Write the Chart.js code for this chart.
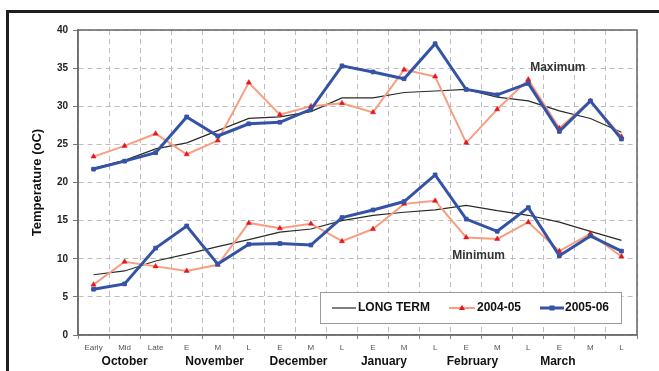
<!DOCTYPE html>
<html>
<head>
<meta charset="utf-8">
<script src="https://cdn.jsdelivr.net/npm/chart.js@4"></script>
<style>
  html, body { margin: 0; padding: 0; background: #fff; }
  #wrap { width: 659px; height: 371px; }
</style>
</head>
<body>
<div id="wrap"><canvas id="c" width="659" height="371"></canvas></div>
<script>
// Ten-day periods, October to March
const categories = ['Early','Mid','Late','E','M','L','E','M','L','E','M','L','E','M','L','E','M','L'];
const months = ['October','November','December','January','February','March'];
const yTicks = [0, 5, 10, 15, 20, 25, 30, 35, 40];

// Maximum temperatures (oC)
const longTermMax = [21.9, 22.9, 24.4, 25.2, 26.8, 28.4, 28.6, 29.3, 31.1, 31.1, 31.8, 32.0, 32.2, 31.2, 30.7, 29.4, 28.4, 26.6];
const max0405     = [23.4, 24.8, 26.4, 23.7, 25.5, 33.1, 28.9, 30.0, 30.4, 29.2, 34.8, 33.9, 25.2, 29.6, 33.5, 27.1, 30.7, 26.0];
const max0506     = [21.75, 22.8, 23.9, 28.6, 26.1, 27.7, 27.9, 29.6, 35.3, 34.5, 33.6, 38.2, 32.2, 31.5, 33.0, 26.7, 30.7, 25.7];

// Minimum temperatures (oC)
const longTermMin = [7.9, 8.4, 9.7, 10.6, 11.6, 12.5, 13.5, 13.9, 15.0, 15.7, 16.1, 16.4, 17.0, 16.3, 15.7, 14.8, 13.6, 12.4];
const min0405     = [6.6, 9.6, 9.0, 8.4, 9.2, 14.7, 14.0, 14.6, 12.3, 13.9, 17.2, 17.6, 12.8, 12.6, 14.8, 11.0, 13.3, 10.3];
const min0506     = [6.0, 6.7, 11.4, 14.3, 9.3, 11.9, 12.0, 11.8, 15.4, 16.4, 17.5, 21.0, 15.2, 13.6, 16.7, 10.4, 13.0, 11.0];

const seriesNames = ['LONG TERM', '2004-05', '2005-06'];

const FONT = "'Liberation Sans', Arial, sans-serif";
const BLUE = '#3553a6';
const SALMON = 'rgb(246,158,128)';
const RED = '#e8141c';
const BLACK = '#2a2a2a';

const styleBlue = { borderColor: BLUE, backgroundColor: BLUE, borderWidth: 3, pointStyle: 'rect', pointRadius: 2.6, pointBackgroundColor: BLUE, pointBorderColor: BLUE, pointBorderWidth: 1 };
const styleRed  = { borderColor: SALMON, backgroundColor: RED, borderWidth: 2, pointStyle: 'triangle', pointRadius: 3, pointBackgroundColor: RED, pointBorderColor: RED, pointBorderWidth: 0.5 };
const styleLong = { borderColor: BLACK, backgroundColor: BLACK, borderWidth: 1.2, pointRadius: 0 };

function ds(label, data, style) {
  return Object.assign({ label, data, tension: 0, fill: false, pointHoverRadius: 0 }, style);
}

// Frame, plot border, month names, annotations and legend box
const decorations = {
  id: 'decorations',
  beforeDraw(chart) {
    const ctx = chart.ctx;
    ctx.save();
    ctx.fillStyle = '#fff';
    ctx.fillRect(0, 0, chart.width, chart.height);
    ctx.strokeStyle = '#1e1e1e';
    ctx.lineWidth = 3;
    ctx.beginPath();
    ctx.moveTo(7.5, chart.height + 5);
    ctx.lineTo(7.5, 11.5);
    ctx.lineTo(chart.width + 5, 11.5);
    ctx.stroke();
    ctx.restore();
  },
  afterDraw(chart) {
    const ctx = chart.ctx;
    const a = chart.chartArea;
    const x = chart.scales.x, y = chart.scales.y;
    ctx.save();
    // plot area border
    ctx.strokeStyle = '#6e6e6e';
    ctx.lineWidth = 1.6;
    ctx.strokeRect(a.left, a.top, a.right - a.left, a.bottom - a.top);

    // month names under the period labels
    const monthAnchors = [1, 3.9, 6.6, 9.35, 12.2, 14.95];
    ctx.fillStyle = '#111';
    ctx.font = 'bold 12px ' + FONT;
    ctx.textAlign = 'center';
    ctx.textBaseline = 'middle';
    months.forEach((m, i) => ctx.fillText(m, x.getPixelForValue(monthAnchors[i]), 362));

    // group annotations
    ctx.fillStyle = '#333';
    ctx.font = 'bold 12px ' + FONT;
    ctx.fillText('Maximum', x.getPixelForValue(14.95), y.getPixelForValue(35.1));
    ctx.fillText('Minimum', x.getPixelForValue(12.4), y.getPixelForValue(10.4));

    // legend box
    const bx = 320, by = 292, bw = 301, bh = 31;
    ctx.fillStyle = '#fff';
    ctx.fillRect(bx, by, bw, bh);
    ctx.strokeStyle = '#9a9a9a';
    ctx.lineWidth = 1;
    ctx.strokeRect(bx + 0.5, by + 0.5, bw, bh);
    const cy = by + bh / 2 + 0.5;
    const entries = [
      { x0: 332, x1: 356, tx: 358, style: styleLong },
      { x0: 449, x1: 475, tx: 477, style: styleRed },
      { x0: 540, x1: 564, tx: 565, style: styleBlue }
    ];
    entries.forEach((e, i) => {
      const s = e.style;
      ctx.strokeStyle = s.borderColor;
      ctx.lineWidth = s.borderWidth;
      ctx.beginPath();
      ctx.moveTo(e.x0, cy);
      ctx.lineTo(e.x1, cy);
      ctx.stroke();
      const mx = (e.x0 + e.x1) / 2;
      if (s.pointStyle === 'triangle') {
        ctx.fillStyle = RED;
        ctx.beginPath();
        ctx.moveTo(mx, cy - 3.2);
        ctx.lineTo(mx + 3, cy + 2);
        ctx.lineTo(mx - 3, cy + 2);
        ctx.closePath();
        ctx.fill();
      } else if (s.pointStyle === 'rect') {
        ctx.fillStyle = BLUE;
        ctx.fillRect(mx - 2.5, cy - 2.5, 5, 5);
      }
      ctx.fillStyle = '#111';
      ctx.font = 'bold 12px ' + FONT;
      ctx.textAlign = 'left';
      ctx.fillText(seriesNames[i], e.tx, cy);
    });
    ctx.restore();
  }
};

new Chart(document.getElementById('c'), {
  type: 'line',
  data: {
    labels: categories,
    datasets: [
      ds(seriesNames[2] + ' max', max0506, styleBlue),
      ds(seriesNames[2] + ' min', min0506, styleBlue),
      ds(seriesNames[1] + ' max', max0405, styleRed),
      ds(seriesNames[1] + ' min', min0405, styleRed),
      ds(seriesNames[0] + ' max', longTermMax, styleLong),
      ds(seriesNames[0] + ' min', longTermMin, styleLong)
    ]
  },
  options: {
    responsive: false,
    animation: false,
    devicePixelRatio: 1,
    layout: { padding: { left: 0, right: 22, top: 30, bottom: 0 } },
    plugins: { legend: { display: false }, tooltip: { enabled: false }, title: { display: false } },
    scales: {
      x: {
        type: 'category',
        offset: true,
        grid: { offset: true, color: '#bdbdbd', lineWidth: 1, tickLength: 4, tickColor: '#888', drawTicks: true },
        border: { display: true, color: '#6e6e6e', width: 1.6, dash: [5, 4] },
        ticks: { color: '#555', font: { family: FONT, size: 8 }, padding: 4, autoSkip: false, maxRotation: 0 },
        afterFit(s) { s.height = 36; }
      },
      y: {
        min: 0,
        max: 40,
        afterBuildTicks(s) { s.ticks = yTicks.map(v => ({ value: v })); },
        grid: { color: '#bdbdbd', lineWidth: 1, tickLength: 5, tickColor: '#777' },
        border: { display: true, color: '#6e6e6e', width: 1.6, dash: [5, 4] },
        ticks: { color: '#222', font: { family: FONT, size: 10, weight: 'bold' }, padding: 5 },
        title: { display: true, text: 'Temperature (oC)', color: '#111', font: { family: FONT, size: 13, weight: 'bold' }, padding: { top: 30, bottom: 0 } },
        afterFit(s) { s.width = 78; }
      }
    }
  },
  plugins: [decorations]
});
</script>
</body>
</html>
